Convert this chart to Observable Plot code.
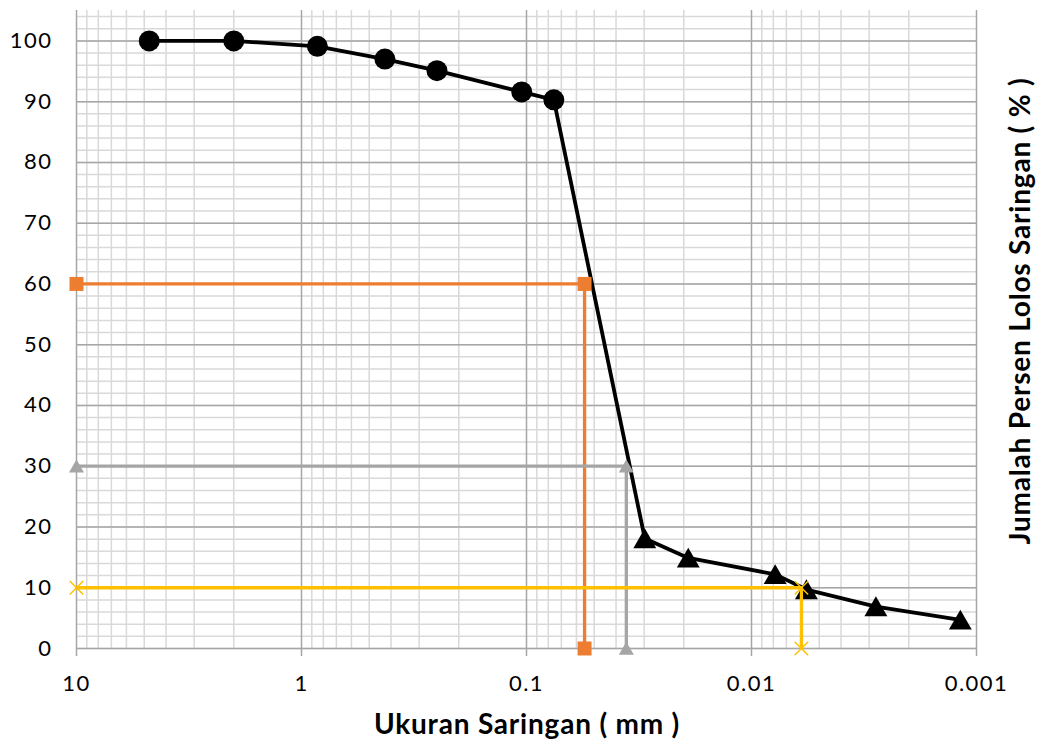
<!DOCTYPE html>
<html><head><meta charset="utf-8">
<script src="https://cdn.jsdelivr.net/npm/d3@7"></script>
<script src="https://cdn.jsdelivr.net/npm/@observablehq/plot@0.6"></script>
<style>body{margin:0;background:#fff} svg{display:block}</style>
</head><body><div id="chart"></div>
<script>
// Sieve analysis (circles)
const sieveSize = [4.75, 2.0, 0.85, 0.426, 0.25, 0.105, 0.0756];
const sievePass = [100, 100, 99.1, 97.0, 95.1, 91.6, 90.3];
// Hydrometer analysis (triangles)
const hydroSize = [0.0298, 0.0191, 0.00785, 0.0057, 0.0028, 0.00118];
const hydroPass = [18.1, 14.9, 12.2, 9.7, 6.9, 4.7];
// Reference lines D60, D30, D10
const d60 = 0.0552, d30 = 0.036, d10 = 0.006;
const refStart = 10;
// Ticks
const majorX = [10, 1, 0.1, 0.01, 0.001];
const xLabels = ["10", "1", "0.1", "0.01", "0.001"];
const minorDecades = [1, 0.1, 0.01, 0.001];
const minorMult = [2, 3, 4, 5, 6, 7, 8, 9];
const majorY = [0, 10, 20, 30, 40, 50, 60, 70, 80, 90, 100];
const minorY = d3.range(0, 105, 2);

const minorX = minorDecades.flatMap(d => minorMult.map(m => d * m));
const sieve = sieveSize.map((s, i) => ({x: s, y: sievePass[i]}));
const hydro = hydroSize.map((s, i) => ({x: s, y: hydroPass[i]}));
const all = sieve.concat(hydro);
const ref = (d, p) => [{x: refStart, y: p}, {x: d, y: p}, {x: d, y: 0}];
const r60 = ref(d60, 60), r30 = ref(d30, 30), r10 = ref(d10, 10);

const orange = "#ED7D31", gray = "#A5A5A5", yellow = "#FFC000";

const plot = Plot.plot({
  width: 1044, height: 744,
  marginLeft: 76, marginRight: 68, marginTop: 10, marginBottom: 96,
  style: {fontFamily: "Lato, sans-serif", fontSize: "22px", color: "#000", background: "#fff"},
  x: {type: "log", domain: [10, 0.001], axis: null},
  y: {domain: [0, 105], axis: null},
  marks: [
    Plot.ruleX(minorX, {stroke: "#d9d9d9", strokeWidth: 1.5}),
    Plot.ruleY(minorY, {stroke: "#d9d9d9", strokeWidth: 1.5}),
    Plot.ruleX(majorX, {stroke: "#a6a6a6", strokeWidth: 1.5}),
    Plot.ruleY(majorY, {stroke: "#a6a6a6", strokeWidth: 1.5}),
    Plot.axisX({ticks: majorX, tickSize: 8, tickPadding: 19, stroke: "#a6a6a6", strokeWidth: 1.5,
      tickFormat: d => xLabels[majorX.indexOf(d)], fill: "#000", fontSize: 22, label: null}),
    Plot.axisY({ticks: majorY, tickSize: 0, tickPadding: 24, fill: "#000", fontSize: 22, label: null}),
    Plot.line(all, {x: "x", y: "y", stroke: "#000", strokeWidth: 3.8}),
    Plot.dot(sieve, {x: "x", y: "y", r: 10.5, fill: "#000", stroke: "none"}),
    Plot.dot(hydro, {x: "x", y: "y", r: 8.5, symbol: "triangle", fill: "#000", stroke: "none", dy: 3}),
    Plot.line(r60, {x: "x", y: "y", stroke: orange, strokeWidth: 3.3}),
    Plot.dot(r60, {x: "x", y: "y", r: 7.9, symbol: "square", fill: orange, stroke: "none"}),
    Plot.line(r30, {x: "x", y: "y", stroke: gray, strokeWidth: 3.3}),
    Plot.dot(r30, {x: "x", y: "y", r: 5.6, symbol: "triangle", fill: gray, stroke: "none", dy: 2}),
    Plot.line(r10, {x: "x", y: "y", stroke: yellow, strokeWidth: 3.3}),
    Plot.dot(r10, {x: "x", y: "y", r: 6.2, symbol: "times", stroke: yellow, strokeWidth: 1.5})
  ]
});

const svg = d3.select(plot);
svg.selectAll("g[aria-label$='tick label'] text").attr("letter-spacing", "1.5px");
svg.append("text")
  .attr("x", 527).attr("y", 734)
  .attr("text-anchor", "middle")
  .attr("font-family", "Lato, sans-serif")
  .attr("font-weight", "bold").attr("font-size", 28)
  .attr("letter-spacing", "0.8px")
  .attr("fill", "#000")
  .text("Ukuran Saringan ( mm )");
svg.append("text")
  .attr("transform", "translate(1030,311) rotate(-90)")
  .attr("text-anchor", "middle")
  .attr("font-family", "Lato, sans-serif")
  .attr("font-weight", "bold").attr("font-size", 28)
  .attr("letter-spacing", "0.8px")
  .attr("fill", "#000")
  .text("Jumalah Persen Lolos Saringan ( % )");

document.getElementById("chart").appendChild(plot);
</script>
</body></html>
